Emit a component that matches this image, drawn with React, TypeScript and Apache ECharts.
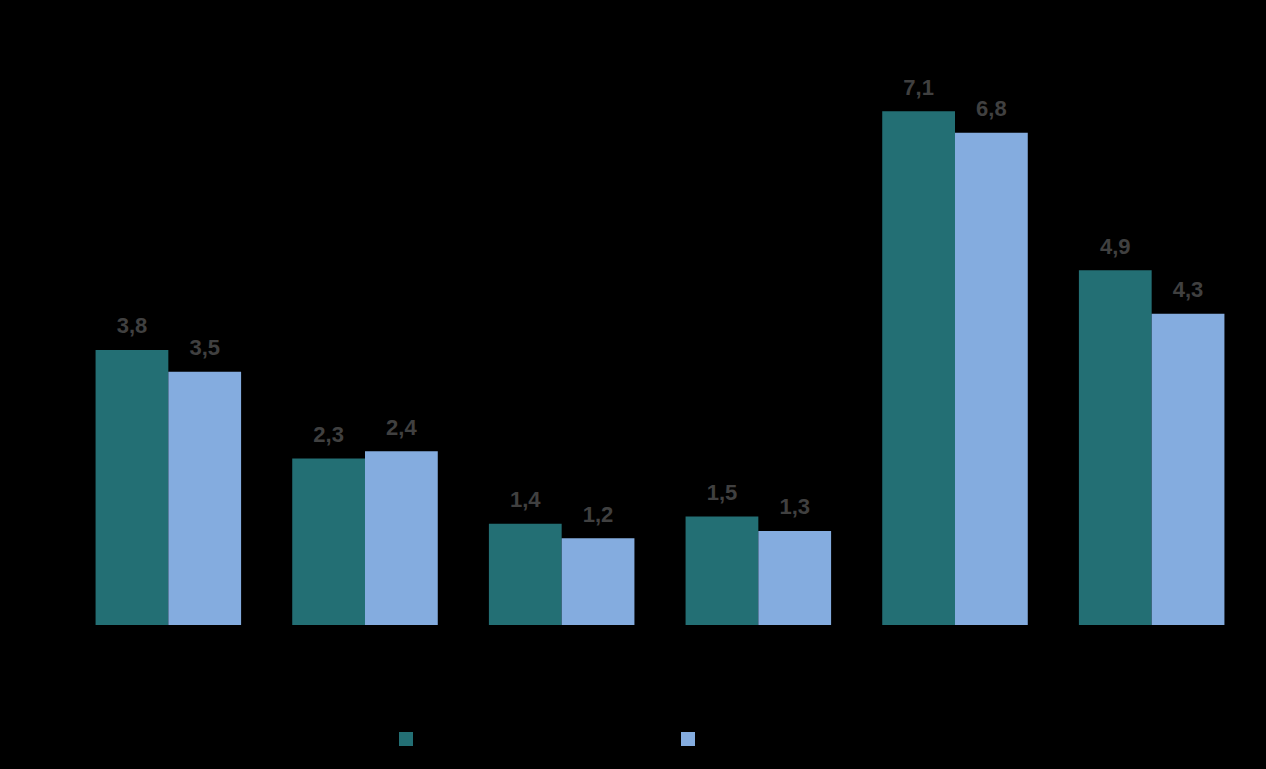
import React, { useEffect, useRef } from "react";
import * as echarts from "echarts";

const categories = ["A", "B", "C", "D", "E", "F"];
const seriesNames = ["Série 1", "Série 2"];
const series1 = [3.8, 2.3, 1.4, 1.5, 7.1, 4.9];
const series2 = [3.5, 2.4, 1.2, 1.3, 6.8, 4.3];
const colors = ["#236F74", "#84ACDF"];

export default function App() {
  const ref = useRef<HTMLDivElement>(null);
  useEffect(() => {
    if (!ref.current) return;
    const chart = echarts.init(ref.current, null, { renderer: "svg" });
    const label = {
      show: true,
      position: "top",
      distance: 13,
      color: "#404040",
      fontFamily: "Liberation Sans, Arial, sans-serif",
      fontSize: 22,
      fontWeight: "bold",
      formatter: (p: any) => String(p.value.toFixed(1)).replace(".", ","),
    };
    chart.setOption({
      animation: false,
      backgroundColor: "#000000",
      color: colors,
      grid: { left: 70, right: 16, top: 46, bottom: 144 },
      legend: {
        data: seriesNames,
        left: 399,
        top: 732,
        itemWidth: 14,
        itemHeight: 14,
        itemGap: 268,
        icon: "rect",
        padding: 0,
        formatter: () => "",
        textStyle: { color: "#000000" },
      },
      xAxis: {
        type: "category",
        data: categories,
        axisLine: { show: false },
        axisTick: { show: false },
        axisLabel: { show: false },
      },
      yAxis: {
        type: "value",
        min: 0,
        max: 8,
        show: false,
        splitLine: { show: false },
      },
      series: [
        {
          name: seriesNames[0],
          type: "bar",
          data: series1,
          barGap: "0%",
          barCategoryGap: "26%",
          label,
        },
        {
          name: seriesNames[1],
          type: "bar",
          data: series2,
          barGap: "0%",
          barCategoryGap: "26%",
          label,
        },
      ],
    });
    return () => chart.dispose();
  }, []);
  return (
    <div
      ref={ref}
      style={{ position: "fixed", left: 0, top: 0, width: 1266, height: 769, background: "#000" }}
    />
  );
}
